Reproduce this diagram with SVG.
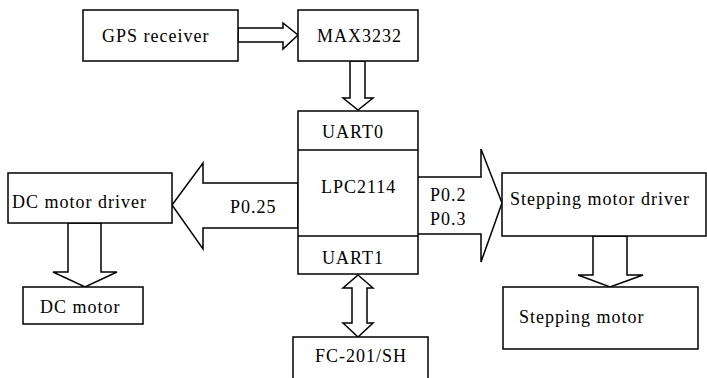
<svg xmlns="http://www.w3.org/2000/svg" width="707" height="378" viewBox="0 0 707 378">
<style>
.box{fill:#fff;stroke:#000;stroke-width:1.5}
.arr{fill:#fff;stroke:#000;stroke-width:1.5;stroke-linejoin:miter}
text{font-family:"Liberation Serif","Times New Roman",serif;font-size:18px;letter-spacing:1px;fill:#000}
</style>
<rect width="707" height="378" fill="#fff"/>
<g id="connectors">
<polygon class="arr" points="238,28 283,28 283,23 298,35 283,49 283,42 238,42"/>
<polygon class="arr" points="350,61 350,98 343,98 358,110 373,98 365,98 365,61"/>
<polygon class="arr" points="298,183 203,183 203,163 172,205 203,249 203,228 298,228"/>
<polygon class="arr" points="417,177 481,177 481,149 502,203 481,262 481,234 417,234"/>
<polygon class="arr" points="68,223 68,272 53,272 85,287 117,272 101,272 101,223"/>
<polygon class="arr" points="593,236 593,275 578,275 610,287 643,275 627,275 627,236"/>
<polygon class="arr" points="358,275 373,288 367,288 367,323 373,323 358,337 343,323 352,323 352,288 343,288"/>
</g>
<g id="gps"><rect class="box" x="83" y="10" width="155" height="51"/><text x="102" y="42">GPS receiver</text></g>
<g id="max3232"><rect class="box" x="298" y="10" width="120" height="51"/><text x="317" y="42">MAX3232</text></g>
<g id="lpc2114">
<rect class="box" x="298" y="111" width="120" height="163"/>
<line x1="298" y1="150" x2="418" y2="150" stroke="#000" stroke-width="1.5"/>
<line x1="298" y1="236" x2="418" y2="236" stroke="#000" stroke-width="1.5"/>
<text x="322" y="138">UART0</text>
<text x="321" y="193">LPC2114</text>
<text x="322" y="264">UART1</text>
</g>
<g id="labels"><text x="230" y="213">P0.25</text><text x="430" y="201">P0.2</text><text x="430" y="225">P0.3</text></g>
<g id="dcdriver"><rect class="box" x="8" y="173" width="164" height="50"/><text x="12" y="208">DC motor driver</text></g>
<g id="dcmotor"><rect class="box" x="23" y="287" width="120" height="37"/><text x="40" y="313">DC motor</text></g>
<g id="stepdriver"><rect class="box" x="502" y="173" width="204" height="63"/><text x="510" y="205">Stepping motor driver</text></g>
<g id="stepmotor"><rect class="box" x="503" y="287" width="195" height="62"/><text x="519" y="323">Stepping motor</text></g>
<g id="fc201"><rect class="box" x="293" y="337" width="135" height="50"/><text x="315" y="362">FC-201/SH</text></g>
</svg>
